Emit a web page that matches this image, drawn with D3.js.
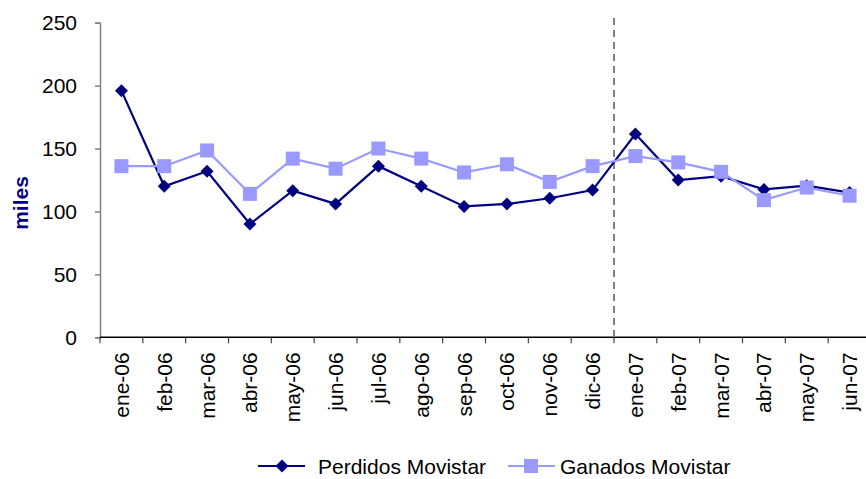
<!DOCTYPE html>
<html>
<head>
<meta charset="utf-8">
<script src="https://cdn.jsdelivr.net/npm/d3@7"></script>
<style>
  body { margin: 0; background: #fff; }
  svg { display: block; font-family: Arial, "Liberation Sans", sans-serif; }
</style>
</head>
<body>
<svg id="chart" width="866" height="479"></svg>
<script>
const months = ["ene-06", "feb-06", "mar-06", "abr-06", "may-06", "jun-06",
  "jul-06", "ago-06", "sep-06", "oct-06", "nov-06", "dic-06",
  "ene-07", "feb-07", "mar-07", "abr-07", "may-07", "jun-07"];
const perdidos = [196, 120, 132, 90, 116.5, 106, 136, 120, 104, 106, 110.5, 117,
  161.5, 125, 128, 117.5, 120.5, 115];
const ganados = [136, 136, 148.5, 114, 142, 134, 150, 142, 131, 137.5, 123.5, 136,
  144, 139, 131.5, 109, 119, 112.5];
const yTicks = [0, 50, 100, 150, 200, 250];
const splitMonth = "ene-07";

const svg = d3.select("#chart");
const plotLeft = 100, plotRight = 871, plotTop = 22.7, plotBottom = 337.3;

const x = d3.scaleBand().domain(months).range([plotLeft, plotRight]).padding(0);
const y = d3.scaleLinear().domain([0, 250]).range([plotBottom, plotTop]);
const cx = (d) => x(d) + x.bandwidth() / 2;

// y-axis
svg
  .append("g")
  .attr("transform", `translate(${plotLeft}, 0)`)
  .call(d3.axisLeft(y).tickValues(yTicks).tickSize(5).tickPadding(18))
  .call((g) => {
    g.selectAll("path, line").attr("stroke", "#808080").attr("stroke-width", 1.5);
    g.selectAll("text").style("font-size", "21px").attr("fill", "#000");
  });

// x-axis (ticks on band edges)
const gx = svg.append("g");
gx.append("line")
  .attr("x1", plotLeft).attr("x2", plotRight)
  .attr("y1", plotBottom).attr("y2", plotBottom)
  .attr("stroke", "#000").attr("stroke-width", 1.5);
gx.selectAll(".xtick")
  .data(months.concat(["_end"]))
  .enter()
  .append("line")
  .attr("x1", (d, i) => plotLeft + i * x.bandwidth())
  .attr("x2", (d, i) => plotLeft + i * x.bandwidth())
  .attr("y1", plotBottom).attr("y2", plotBottom + 6)
  .attr("stroke", "#404040").attr("stroke-width", 1.2);
gx.selectAll(".xlabel")
  .data(months)
  .enter()
  .append("text")
  .attr("transform", (d) => `translate(${cx(d)}, ${plotBottom + 15}) rotate(-90)`)
  .attr("dy", "0.36em")
  .attr("text-anchor", "end")
  .style("font-size", "21px")
  .text((d) => d);

// y title
svg
  .append("text")
  .attr("transform", `translate(28, 203) rotate(-90)`)
  .attr("text-anchor", "middle")
  .style("font-size", "21px")
  .style("font-weight", "bold")
  .attr("fill", "#000080")
  .text("miles");

// dashed divider
const splitX = x(splitMonth);
svg
  .append("line")
  .attr("x1", splitX).attr("x2", splitX)
  .attr("y1", 18).attr("y2", plotBottom)
  .attr("stroke", "#808080")
  .attr("stroke-width", 2)
  .attr("stroke-dasharray", "7,5");

const line = d3.line().x((d, i) => cx(months[i])).y((d) => y(d));
const diamond = (px, py, r) => `M${px},${py - r}L${px + r},${py}L${px},${py + r}L${px - r},${py}Z`;

// Perdidos
svg.append("path")
  .attr("d", line(perdidos))
  .attr("fill", "none")
  .attr("stroke", "#000080")
  .attr("stroke-width", 2.2);
svg.append("g")
  .selectAll("path")
  .data(perdidos)
  .enter()
  .append("path")
  .attr("d", (d, i) => diamond(cx(months[i]), y(d), 6.5))
  .attr("fill", "#000080");

// Ganados
svg.append("path")
  .attr("d", line(ganados))
  .attr("fill", "none")
  .attr("stroke", "#9999FF")
  .attr("stroke-width", 2.2);
svg.append("g")
  .selectAll("rect")
  .data(ganados)
  .enter()
  .append("rect")
  .attr("x", (d, i) => cx(months[i]) - 7)
  .attr("y", (d) => y(d) - 7)
  .attr("width", 14)
  .attr("height", 14)
  .attr("fill", "#9999FF");

// legend
const ly = 466;
svg.append("line").attr("x1", 258).attr("x2", 305).attr("y1", ly).attr("y2", ly)
  .attr("stroke", "#000080").attr("stroke-width", 2.2);
svg.append("path").attr("d", diamond(282, ly, 6.5)).attr("fill", "#000080");
svg.append("text").attr("x", 318).attr("y", ly).attr("dy", "0.36em")
  .style("font-size", "21px").text("Perdidos Movistar");

svg.append("line").attr("x1", 508).attr("x2", 555).attr("y1", ly).attr("y2", ly)
  .attr("stroke", "#9999FF").attr("stroke-width", 2.2);
svg.append("rect").attr("x", 524).attr("y", ly - 7).attr("width", 14).attr("height", 14)
  .attr("fill", "#9999FF");
svg.append("text").attr("x", 560).attr("y", ly).attr("dy", "0.36em")
  .style("font-size", "21px").text("Ganados Movistar");
</script>
</body>
</html>
